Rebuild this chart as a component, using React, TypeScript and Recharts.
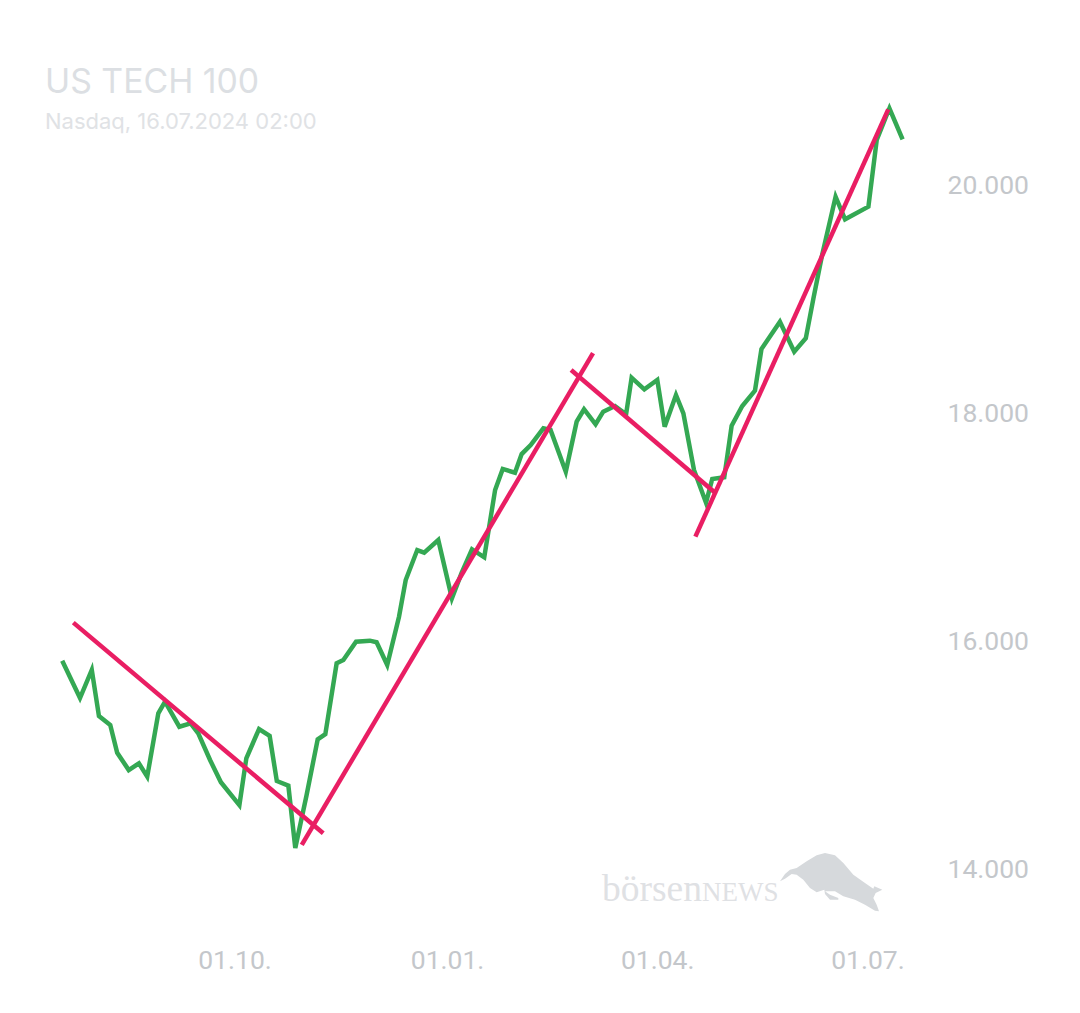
import React from 'react';
import { LineChart, Line, XAxis, YAxis } from 'recharts';

// x is days counted from 01.10.2023
const days = [
    -74.8, -67.1, -62.0, -58.9, -54.0, -51.0, -46.0, -41.6, -38.0, -33.2,
    -30.3, -24.1, -19.2, -15.9, -10.8, -6.1, 1.9, 4.9, 10.4, 15.0,
    18.1, 23.1, 26.1, 31.0, 35.8, 39.1, 44.0, 46.9, 52.4, 58.4,
    61.3, 65.9, 71.0, 73.9, 78.9, 81.9, 88.0, 93.9, 98.1, 102.6,
    107.9, 112.6, 115.9, 121.2, 124.1, 128.0, 133.5, 136.6, 143.2, 147.9,
    151.1, 156.1, 159.4, 164.5, 169.3, 171.7, 177.2, 182.8, 186.0, 190.9,
    194.1, 198.7, 203.9, 206.6, 211.8, 215.0, 219.6, 225.1, 227.9, 235.9,
    242.1, 247.1, 250.4, 254.0, 260.0, 264.1, 274.2, 277.8, 283.3, 289.0
];

const closes = [
    15827, 15500, 15746, 15342, 15263, 15020, 14868, 14927, 14810, 15366,
    15468, 15248, 15278, 15190, 14956, 14761, 14561, 14971, 15228, 15167,
    14772, 14731, 14184, 14649, 15138, 15182, 15804, 15833, 15994, 16003,
    15989, 15789, 16213, 16535, 16798, 16775, 16886, 16375, 16597, 16804,
    16734, 17325, 17509, 17476, 17640, 17719, 17866, 17851, 17485, 17924,
    18033, 17901, 18012, 18061, 17989, 18310, 18208, 18290, 17880, 18158,
    17997, 17500, 17213, 17421, 17436, 17889, 18061, 18196, 18561, 18801,
    18538, 18655, 19006, 19371, 19897, 19699, 19810, 20395, 20673, 20401
];

const trendDownFirst = [{ day: -70.0, value: 16161 }, { day: 38.2, value: 14313 }];
const trendUpFirst = [{ day: 28.9, value: 14211 }, { day: 155.0, value: 18526 }];
const trendDownSecond = [{ day: 145.5, value: 18377 }, { day: 208.1, value: 17296 }];
const trendUpSecond = [{ day: 199.3, value: 16915 }, { day: 282.8, value: 20664 }];
const trends = [trendDownFirst, trendUpFirst, trendDownSecond, trendUpSecond];

const xTicks = [0, 92, 183, 274];
const xTickLabels: Record<number, string> = { 0: '01.10.', 92: '01.01.', 183: '01.04.', 274: '01.07.' };
const yTicks = [14000, 16000, 18000, 20000];

const data = days.map((day, i) => ({ day, value: closes[i] }));

const formatPrice = (v: number) => v.toLocaleString('de-DE');

const Overlay = () => (
    <svg width={1080} height={1013} style={{ position: 'absolute', left: 0, top: 0 }}>
        <text x={45} y={93} fontFamily="Inter" fontSize={33.8} fill="#dcdfe3">US TECH 100</text>
        <text x={45} y={129} fontFamily="Inter" fontSize={22} fill="#e0e2e5">Nasdaq, 16.07.2024 02:00</text>
        <text x={602} y={901} fontFamily="Liberation Serif" fontSize={37.5} fill="#dfe1e4">
            börsen<tspan fontSize={27}>NEWS</tspan>
        </text>
        <path
            transform="translate(775 848) scale(0.3333)"
            fill="#d6d9dc"
            d="M15 100 L30 78 L45 65 L65 60 L95 40 L125 22 L150 15 L180 22 L205 45 L235 80 L270 105 L295 122 L298 115 L322 125 L302 135 L295 150 L305 170 L312 190 L300 188 L270 170 L240 155 L205 145 L180 130 L150 130 L165 140 L190 150 L190 155 L165 155 L150 138 L148 125 L125 133 L105 120 L85 95 L65 80 L50 78 L30 92 Z"
        />
    </svg>
);

export default function App() {
    return (
        <div style={{ position: 'absolute', left: 0, top: 0, width: 1080, height: 1013 }}>
            <Overlay />
            <div style={{ position: 'absolute', left: 0, top: 0 }}>
                <LineChart width={1080} height={1013} margin={{ top: 71, right: 0, bottom: 0, left: 38.65 }}>
                    <XAxis
                        type="number"
                        dataKey="day"
                        domain={[-85, 305]}
                        ticks={xTicks}
                        tickFormatter={(v: number) => xTickLabels[v]}
                        axisLine={false}
                        tickLine={false}
                        height={87}
                        tickMargin={18}
                        interval={0}
                        tick={{ fill: '#c4c7cb', fontSize: 26.5, fontFamily: 'Roboto' }}
                    />
                    <YAxis
                        type="number"
                        dataKey="value"
                        orientation="right"
                        domain={[13500, 21000]}
                        ticks={yTicks}
                        tickFormatter={formatPrice}
                        axisLine={false}
                        tickLine={false}
                        width={140.45}
                        tickMargin={2}
                        interval={0}
                        tick={{ fill: '#c4c7cb', fontSize: 26.5, fontFamily: 'Roboto' }}
                    />
                    <Line
                        data={data}
                        dataKey="value"
                        stroke="#34a853"
                        strokeWidth={4.5}
                        dot={false}
                        strokeLinejoin="miter"
                        isAnimationActive={false}
                    />
                    {trends.map((segment, i) => (
                        <Line
                            key={i}
                            data={segment}
                            dataKey="value"
                            stroke="#e91e63"
                            strokeWidth={4.5}
                            dot={false}
                            isAnimationActive={false}
                        />
                    ))}
                </LineChart>
            </div>
        </div>
    );
}
